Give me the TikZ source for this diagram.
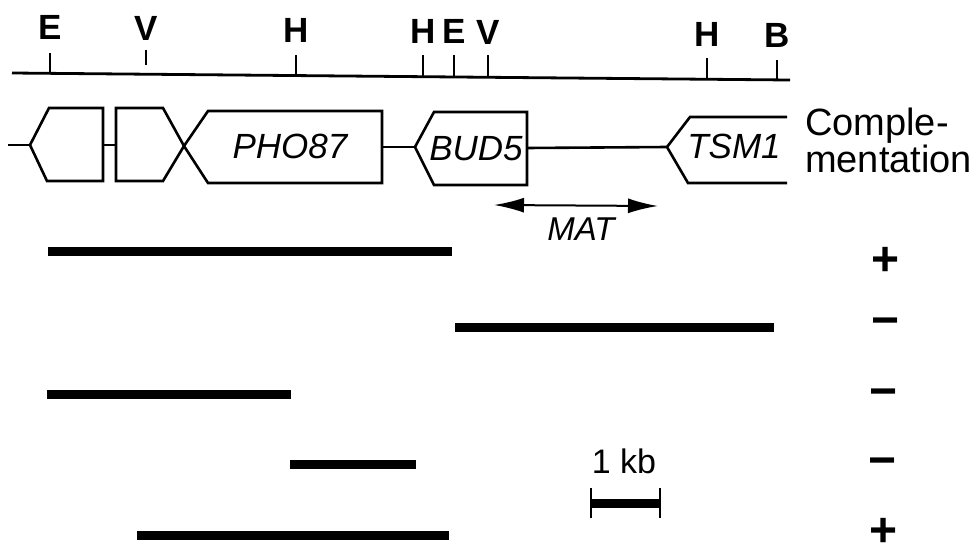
\documentclass[tikz,border=0pt]{standalone}
\usepackage{fontspec}
\setmainfont{Liberation Sans}
\usetikzlibrary{arrows.meta}
\begin{document}
\begin{tikzpicture}[x=1pt,y=-1pt,
  mapline/.style={line width=2.8pt},
  tickln/.style={line width=2.4pt},
  site/.style={font=\fontsize{35}{37}\selectfont\bfseries, anchor=base, inner sep=0pt},
  gene/.style={line width=2.6pt, line join=miter},
  genename/.style={font=\fontsize{35}{37}\selectfont\itshape, anchor=base, inner sep=0pt},
  clone/.style={line width=9pt},
  sign/.style={font=\fontsize{48}{50}\selectfont\bfseries, inner sep=0pt},
  lbl/.style={font=\fontsize{34}{36}\selectfont, anchor=base, inner sep=0pt}]
\useasboundingbox (0,0) rectangle (978,549);
% restriction map (slightly tilted as in the print)
\coordinate (mapL) at (12,73);
\coordinate (mapR) at (790,80);
\draw[mapline] (mapL) -- (mapR);
\foreach \nm/\x/\t/\b/\lab in {e1/50/53/73.3/E, h1/296/55/75.6/H, h2/423/55/76.7/H, e2/454/55/77/E, v2/488/55/77.3/V, h3/707/58/79.3/H, b1/777/60/79.9/B}{
  \draw[tickln] (\x,\t) -- (\x,\b);
  \node[site] (\nm) at (\x,{39+0.011*\x}) {\lab};
}
\draw[tickln] (146,50) -- (146,65);
\node[site] (v1) at (146,40.6) {V};
% gene row
\coordinate (g0) at (8,145);
\coordinate (a1) at (30,145);
\draw[gene] (g0) -- (a1);
\draw[gene] (a1) -- (49,108) -- (103,108) -- (103,181) -- (47,181) -- cycle;
\coordinate (a2) at (103,145);
\coordinate (b2) at (116,145);
\draw[gene] (a2) -- (b2);
\coordinate (bp) at (184,146);
\draw[gene] (116,108) -- (163,108) -- (bp) -- (163,181) -- (116,181) -- cycle;
\draw[gene] (bp) -- (208,111) -- (382,111) -- (382,183) -- (208,183) -- cycle;
\node[genename] (pho) at (290,158) {PHO87};
\coordinate (p2) at (382,147);
\coordinate (c1) at (415,147);
\draw[gene] (p2) -- (c1);
\draw[gene] (c1) -- (434,112) -- (527,112) -- (527,185) -- (434,185) -- cycle;
\node[genename] (bud) at (476,160) {BUD5};
\coordinate (c2) at (527,148);
\coordinate (d1) at (667,147);
\draw[gene] (c2) -- (d1);
\draw[gene] (787,117) -- (690,117) -- (d1) -- (688,183) -- (787,183);
\node[genename] (tsm) at (734,158) {TSM1};
\node[font=\fontsize{38}{37}\selectfont, anchor=base west, inner sep=0pt] (comp1) at (805,135) {Comple-};
\node[font=\fontsize{38}{37}\selectfont, anchor=base west, inner sep=0pt] (comp2) at (805,172) {mentation};
% MAT
\coordinate (m1) at (494,205);
\coordinate (m2) at (658,206);
\draw[line width=2pt, {Latex[length=30pt,width=15pt]}-{Latex[length=30pt,width=15pt]}] (m1) -- (m2);
\node[genename, font=\fontsize{33}{35}\selectfont\itshape] (mat) at (581,240) {MAT};
% clones
\draw[clone] (48,251) coordinate (k1a) -- (452,251) coordinate (k1b);
\draw[clone] (455,327) coordinate (k2a) -- (774,327) coordinate (k2b);
\draw[clone] (47,394) coordinate (k3a) -- (291,394) coordinate (k3b);
\draw[clone] (290,464) coordinate (k4a) -- (416,464) coordinate (k4b);
\draw[clone] (137,535) coordinate (k5a) -- (449,535) coordinate (k5b);
% signs
\node[sign] (s1) at (886,261) {+};
\node[sign] (s2) at (886,327) {\char"2212};
\node[sign] (s3) at (884,398) {\char"2212};
\node[sign] (s4) at (883,467) {\char"2212};
\node[sign] (s5) at (884,532) {+};
% scale bar
\node[lbl] (kb) at (624,473) {1 kb};
\coordinate (sb1) at (591,503);
\coordinate (sb2) at (660,503);
\draw[line width=9pt] (sb1) -- (sb2);
\draw[line width=2.4pt] (591,488) -- (591,518);
\draw[line width=2.4pt] (660,488) -- (660,518);
\end{tikzpicture}
\end{document}
